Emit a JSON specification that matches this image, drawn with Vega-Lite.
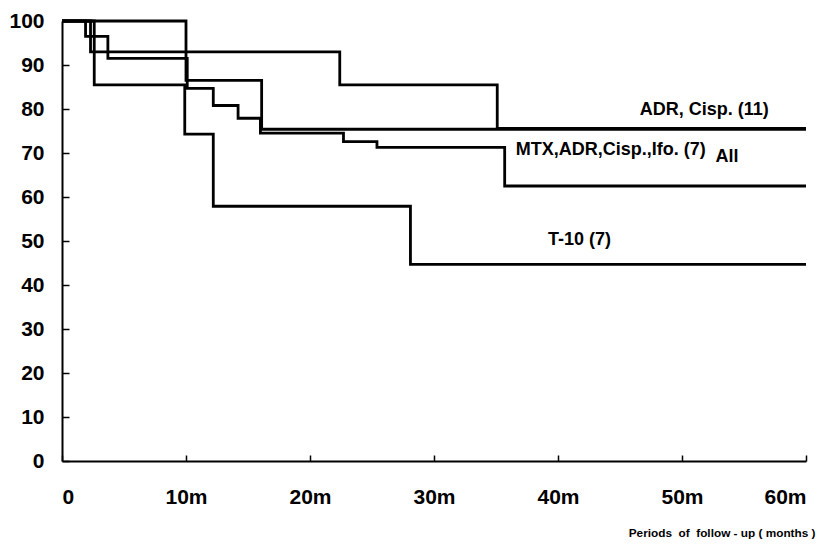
{
  "$schema": "https://vega.github.io/schema/vega-lite/v6.json",
  "width": 744,
  "height": 440,
  "autosize": {"type": "none"},
  "padding": {"left": 62, "top": 21, "right": 22, "bottom": 83},
  "background": "white",
  "config": {
    "view": {"stroke": null},
    "font": "Liberation Sans"
  },
  "datasets": {
    "curves": [
      {"series": "ADR", "t": 0, "v": 100},
      {"series": "ADR", "t": 2.3, "v": 93},
      {"series": "ADR", "t": 22.4, "v": 85.5},
      {"series": "ADR", "t": 35.1, "v": 75.6},
      {"series": "ADR", "t": 60, "v": 75.6},
      {"series": "All", "t": 0, "v": 100},
      {"series": "All", "t": 1.9, "v": 96.5},
      {"series": "All", "t": 3.7, "v": 91.5},
      {"series": "All", "t": 10.1, "v": 84.7},
      {"series": "All", "t": 12.2, "v": 80.8},
      {"series": "All", "t": 14.2, "v": 77.9},
      {"series": "All", "t": 16.0, "v": 74.5},
      {"series": "All", "t": 22.7, "v": 72.6},
      {"series": "All", "t": 25.4, "v": 71.3},
      {"series": "All", "t": 35.7, "v": 62.5},
      {"series": "All", "t": 60, "v": 62.5},
      {"series": "MTX", "t": 0, "v": 100},
      {"series": "MTX", "t": 10.0, "v": 86.5},
      {"series": "MTX", "t": 16.1, "v": 75.4},
      {"series": "MTX", "t": 60, "v": 75.4},
      {"series": "T10", "t": 0, "v": 100},
      {"series": "T10", "t": 2.6, "v": 85.5},
      {"series": "T10", "t": 9.9, "v": 74.3},
      {"series": "T10", "t": 12.2, "v": 57.9},
      {"series": "T10", "t": 28.1, "v": 44.7},
      {"series": "T10", "t": 60, "v": 44.7}
    ],
    "labels": [
      {"label": "ADR, Cisp. (11)", "t": 46.6, "v": 79.8},
      {"label": "MTX,ADR,Cisp.,Ifo. (7)", "t": 36.6, "v": 70.7},
      {"label": "All", "t": 52.7, "v": 69.0},
      {"label": "T-10 (7)", "t": 39.2, "v": 50.2}
    ]
  },
  "layer": [
    {
      "data": {"name": "curves"},
      "mark": {"type": "line", "interpolate": "step-after", "color": "black", "strokeWidth": 2.8, "clip": false},
      "encoding": {
        "x": {
          "field": "t", "type": "quantitative",
          "scale": {"domain": [0, 60], "nice": false, "zero": true},
          "axis": {
            "values": [0, 10, 20, 30, 40, 50, 60],
            "labelExpr": "datum.value == 0 ? '0' : datum.value + 'm'",
            "grid": false,
            "domainColor": "black", "domainWidth": 2,
            "tickColor": "black", "tickWidth": 1.5, "tickSize": -6,
            "labelFont": "Liberation Sans", "labelFontWeight": "bold", "labelFontSize": 21, "labelColor": "black",
            "labelPadding": 31,
            "title": "Periods \u00a0of \u00a0follow - up ( months )",
            "titleFont": "Liberation Sans", "titleFontWeight": "bold", "titleFontSize": 11.8, "titleColor": "black",
            "titleAnchor": "end", "titleAlign": "right", "titleBaseline": "middle",
            "titleX": 753, "titleY": 71
          }
        },
        "y": {
          "field": "v", "type": "quantitative",
          "scale": {"domain": [0, 100], "nice": false},
          "axis": {
            "values": [0, 10, 20, 30, 40, 50, 60, 70, 80, 90, 100],
            "grid": false,
            "domainColor": "black", "domainWidth": 2,
            "tickColor": "black", "tickWidth": 1.5, "tickSize": -7,
            "labelFont": "Liberation Sans", "labelFontWeight": "bold", "labelFontSize": 21, "labelColor": "black",
            "labelPadding": 25,
            "title": null
          }
        },
        "detail": {"field": "series"}
      }
    },
    {
      "data": {"name": "labels"},
      "mark": {"type": "text", "align": "left", "baseline": "middle", "font": "Liberation Sans", "fontWeight": "bold", "fontSize": 18, "color": "black", "clip": false},
      "encoding": {
        "x": {"field": "t", "type": "quantitative"},
        "y": {"field": "v", "type": "quantitative"},
        "text": {"field": "label"}
      }
    }
  ]
}
